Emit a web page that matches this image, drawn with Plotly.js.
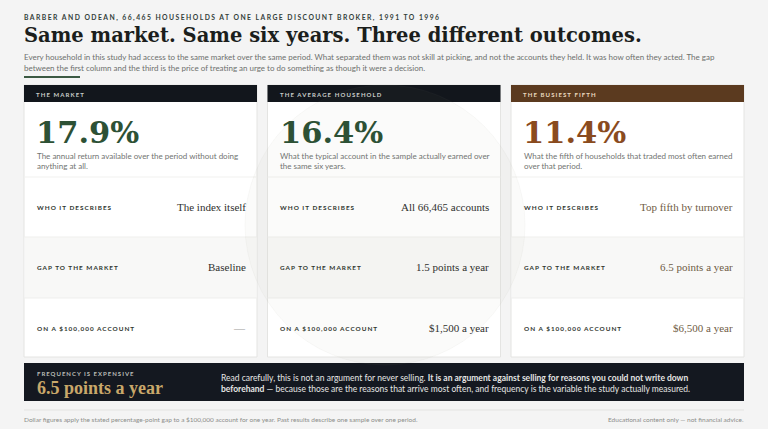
<!DOCTYPE html>
<html>
<head>
<meta charset="utf-8">
<script src="https://cdn.plot.ly/plotly-3.0.1.min.js"></script>
<style>
  html, body { margin: 0; padding: 0; background: #f4f4f4; }
  #chart { width: 768px; height: 429px; }
</style>
</head>
<body>
<div id="chart"></div>
<script>
/* Barber & Odean: three outcomes from the same market */

// ---- data ----
const eyebrow = 'BARBER AND ODEAN, 66,465 HOUSEHOLDS AT ONE LARGE DISCOUNT BROKER, 1991 TO 1996';
const headline = 'Same market. Same six years. Three different outcomes.';
const introLines = [
    'Every household in this study had access to the same market over the same period. What separated them was not skill at picking, and not the accounts they held. It was how often they acted. The gap',
    'between the first column and the third is the price of treating an urge to do something as though it were a decision.'
];

const groups = ['THE MARKET', 'THE AVERAGE HOUSEHOLD', 'THE BUSIEST FIFTH'];
const annualReturns = [17.9, 16.4, 11.4];
const groupNotes = [
    ['The annual return available over the period without doing', 'anything at all.'],
    ['What the typical account in the sample actually earned over', 'the same six years.'],
    ['What the fifth of households that traded most often earned', 'over that period.']
];
const rowLabels = ['WHO IT DESCRIBES', 'GAP TO THE MARKET', 'ON A $100,000 ACCOUNT'];
const whoItDescribes = ['The index itself', 'All 66,465 accounts', 'Top fifth by turnover'];
const gapPoints = [0, 1.5, 6.5];          // percentage points a year behind the market
const gapDollars = [null, 1500, 6500];    // on a $100,000 account, per year

const calloutLabel = 'FREQUENCY IS EXPENSIVE';
const calloutLines = [
    'Read carefully, this is not an argument for never selling. <b>It is an argument against selling for reasons you could not write down</b>',
    '<b>beforehand</b> \u2014 because those are the reasons that arrive most often, and frequency is the variable the study actually measured.'
];
const footLeft = 'Dollar figures apply the stated percentage-point gap to a $100,000 account for one year. Past results describe one sample over one period.';
const footRight = 'Educational content only \u2014 not financial advice.';

// ---- styling ----
const SANS = 'Lato';
const SERIF = 'Liberation Serif';
const HEAVY = 'DejaVu Serif';
const headerFill = ['#12161c', '#12161c', '#5b3a1f'];
const headerInk = ['#c9ccc8', '#c9ccc8', '#ead9bf'];
const bigInk = ['#2d5135', '#2d5135', '#8a4b1e'];
const valueInk = ['#2f302e', '#2f302e', '#6f5c45'];

function spaced(t, ls) {
    return '<span style="letter-spacing:' + ls + 'px">' + t + '</span>';
}

function note(x, y, text, size, color, family, extra) {
    let a = {
        x: x, y: y, xref: 'x', yref: 'y',
        text: text, showarrow: false,
        xanchor: 'left', yanchor: 'middle',
        borderpad: 0, borderwidth: 0,
        font: {family: family || SANS, size: size, color: color}
    };
    return Object.assign(a, extra || {});
}

function rect(x0, y0, x1, y1, fill, line, layer) {
    return {
        type: 'rect', xref: 'x', yref: 'y', x0: x0, y0: y0, x1: x1, y1: y1,
        fillcolor: fill, line: {color: line || fill, width: line ? 1 : 0},
        layer: layer || 'below'
    };
}

function hline(x0, x1, y, color, width) {
    return {type: 'line', xref: 'x', yref: 'y', x0: x0, x1: x1, y0: y, y1: y,
        line: {color: color, width: width || 1}, layer: 'below'};
}

let shapes = [];
let annotations = [];

// header block
annotations.push(note(24, 17, '<b>' + spaced(eyebrow, 1.45) + '</b>', 6.8, '#33403a'));
annotations.push(note(23.5, 35.5, '<b>' + headline + '</b>', 19.5, '#1b1e1c', HEAVY));
introLines.forEach(function(line, k) {
    annotations.push(note(24, 57 + k * 10.5, line, 7.98, '#6d706d'));
});
shapes.push(hline(24, 80, 77, '#3c5a43', 2));

// three cards
const cardW = 233;
const rowY = [207, 267, 328];
for (let i = 0; i < groups.length; i++) {
    const x0 = 24 + i * 243.5;
    const x1 = x0 + cardW;

    shapes.push(rect(x0, 85, x1, 357, '#ffffff', '#e4e4e2'));
    shapes.push(rect(x0 + 0.5, 237, x1 - 0.5, 298, '#f8f8f7'));
    shapes.push(hline(x0, x1, 177, '#f1f1ef'));
    shapes.push(hline(x0, x1, 237, '#efefed'));
    shapes.push(hline(x0, x1, 298, '#efefed'));
    shapes.push(rect(x0, 85, x1, 102, headerFill[i]));

    annotations.push(note(x0 + 12, 94, '<b>' + spaced(groups[i], 1.1) + '</b>', 6, headerInk[i]));

    annotations.push(note(x0 + 12, 131.5, '<b>' + annualReturns[i].toFixed(1) + '%</b>', 30.5, bigInk[i], HEAVY));

    groupNotes[i].forEach(function(line, k) {
        annotations.push(note(x0 + 12.5, 156 + k * 10, line, 8, '#717471'));
    });

    const gapText = gapPoints[i] === 0 ? 'Baseline' : gapPoints[i].toFixed(1) + ' points a year';
    const dollarText = gapDollars[i] === null ? '\u2014' : '$' + gapDollars[i].toLocaleString('en-US') + ' a year';
    const values = [whoItDescribes[i], gapText, dollarText];

    rowLabels.forEach(function(lab, r) {
        annotations.push(note(x0 + 12.5, rowY[r], '<b>' + spaced(lab, 1) + '</b>', 6.4, '#30362f'));
        annotations.push(note(x1 - 11.5, rowY[r] - 0.5, values[r], 11,
            r === 2 && i === 0 ? '#9a9a98' : valueInk[i], SERIF, {xanchor: 'right'}));
    });
}

// faint seal watermark sitting over the middle card
shapes.push({type: 'circle', xref: 'x', yref: 'y', x0: 245, x1: 525, y0: 85, y1: 365,
    fillcolor: 'rgba(150,160,140,0.04)', line: {color: 'rgba(150,160,140,0.06)', width: 1}, layer: 'above'});

// callout band
shapes.push(rect(24, 363, 744, 401, '#141820'));
annotations.push(note(37, 373, '<b>' + spaced(calloutLabel, 1) + '</b>', 6, '#b9bcb6'));
annotations.push(note(37, 387.5, '<b>' + gapPoints[2].toFixed(1) + ' points a year</b>', 18, '#c9a86a', SERIF));
calloutLines.forEach(function(line, k) {
    annotations.push(note(221, 378 + k * 11, line, 8.5, '#e6e6e4'));
});

// footer
shapes.push(hline(24, 744, 410, '#e3e3e1'));
annotations.push(note(24, 419, footLeft, 6.5, '#8c8e8b'));
annotations.push(note(744, 419, footRight, 6.5, '#8c8e8b', SANS, {xanchor: 'right'}));

const layout = {
    width: 768,
    height: 429,
    margin: {l: 0, r: 0, t: 0, b: 0, pad: 0},
    paper_bgcolor: '#f4f4f4',
    plot_bgcolor: 'rgba(0,0,0,0)',
    font: {family: SANS},
    xaxis: {range: [0, 768], visible: false, fixedrange: true},
    yaxis: {range: [429, 0], visible: false, fixedrange: true},
    showlegend: false,
    shapes: shapes,
    annotations: annotations
};

Plotly.newPlot('chart', [], layout, {displayModeBar: false, staticPlot: true});
</script>
</body>
</html>
